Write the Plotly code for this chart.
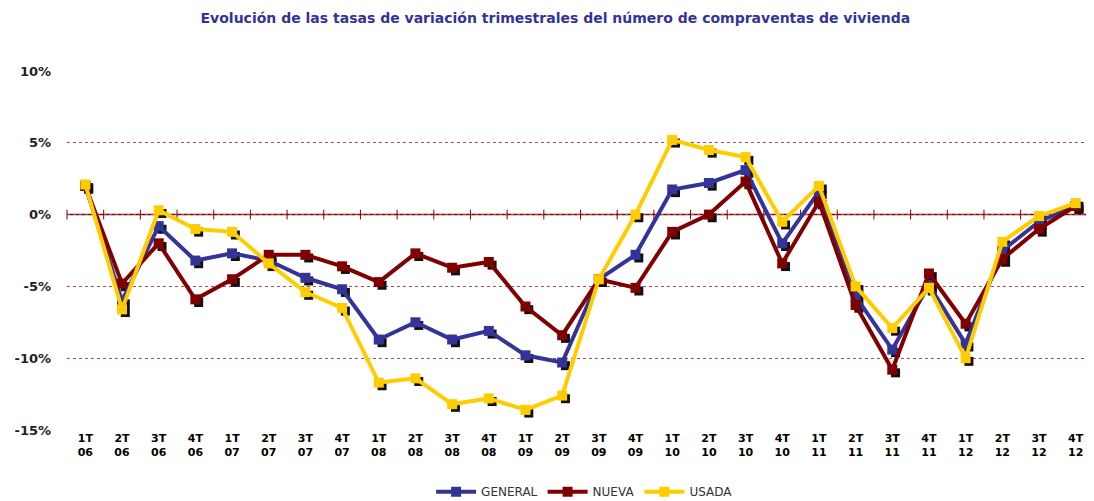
import plotly.graph_objects as go

quarters = ["1T", "2T", "3T", "4T"]
years = ["06", "07", "08", "09", "10", "11", "12"]
categories = [f"{q}<br>{y}" for y in years for q in quarters]

general = [2.0, -6.0, -0.8, -3.2, -2.7, -3.2, -4.4, -5.2, -8.7, -7.5, -8.7, -8.1, -9.8, -10.3,
           -4.5, -2.8, 1.75, 2.2, 3.1, -2.0, 1.6, -5.7, -9.4, -4.9, -9.0, -2.5, -0.5, 0.6]
nueva = [2.0, -4.8, -2.0, -5.9, -4.5, -2.8, -2.8, -3.6, -4.7, -2.7, -3.7, -3.3, -6.4, -8.4,
         -4.5, -5.1, -1.2, 0.0, 2.3, -3.4, 0.9, -6.3, -10.8, -4.1, -7.6, -3.1, -1.0, 0.6]
usada = [2.1, -6.6, 0.3, -1.0, -1.2, -3.4, -5.4, -6.5, -11.7, -11.4, -13.2, -12.8, -13.6, -12.6,
         -4.5, 0.0, 5.2, 4.5, 4.0, -0.5, 2.0, -5.0, -7.9, -5.1, -10.0, -1.9, -0.1, 0.8]

series = [("GENERAL", general, "#333399"), ("NUEVA", nueva, "#800000"), ("USADA", usada, "#FFCC00")]
y_ticks = [10, 5, 0, -5, -10, -15]
y_labels = ["10%", "5%", "0%", "-5%", "-10%", "-15%"]

xs = list(range(len(categories)))
fig = go.Figure()

# axis tick marks on the zero line (category boundaries)
bounds = [i + 0.5 for i in range(-1, len(categories))]
fig.add_trace(go.Scatter(x=bounds, y=[0] * len(bounds), mode="markers",
                         marker=dict(symbol="line-ns-open", size=7, color="#800000",
                                     line=dict(color="#800000", width=1)),
                         showlegend=False, hoverinfo="skip", cliponaxis=False))

# drop shadows for markers
for name, vals, col in series:
    fig.add_trace(go.Scatter(x=[x + 0.09 for x in xs], y=[v - 0.22 for v in vals], mode="markers",
                             marker=dict(symbol="square", size=9, color="#111111"),
                             showlegend=False, hoverinfo="skip", cliponaxis=False))

for name, vals, col in series:
    fig.add_trace(go.Scatter(x=xs, y=vals, name=name, mode="lines+markers",
                             line=dict(color=col, width=4),
                             marker=dict(symbol="square", size=10, color=col),
                             cliponaxis=False))

fig.add_shape(type="line", xref="paper", x0=0, x1=1, yref="y", y0=0, y1=0,
              line=dict(color="#800000", width=1.5), layer="below")

# the page body adds an 8px offset, so the figure is 8px smaller than the window
fig.update_layout(
    width=1086, height=493,
    margin=dict(l=59, r=0, t=63, b=71, autoexpand=False),
    paper_bgcolor="white", plot_bgcolor="white",
    title=dict(text="<b>Evolución de las tasas de variación trimestrales del número de compraventas de vivienda</b>",
               x=0.504, xanchor="center", y=0.979, yanchor="middle",
               font=dict(family="DejaVu Sans", size=14, color="#333399")),
    xaxis=dict(range=[-0.5, len(categories) - 0.5], tickmode="array", tickvals=xs, ticktext=categories,
               showgrid=False, zeroline=False, showline=False, ticks="",
               tickfont=dict(family="DejaVu Sans", size=11, color="#000000", weight="bold"),
               automargin=False, fixedrange=True),
    yaxis=dict(range=[-15, 10], tickmode="array", tickvals=y_ticks, ticktext=y_labels,
               showgrid=True, gridcolor="#A05050", griddash="dot", gridwidth=1,
               zeroline=False, showline=False, ticks="", ticklabelstandoff=15,
               automargin=False,
               tickfont=dict(family="DejaVu Sans", size=13, color="#222222", weight="bold")),
    legend=dict(orientation="h", x=0.504, xanchor="center", y=-0.172, yanchor="middle",
                font=dict(family="DejaVu Sans", size=12, color="#333333"),
                itemwidth=40, tracegroupgap=0),
    showlegend=True,
)

fig.write_html("out.html")
